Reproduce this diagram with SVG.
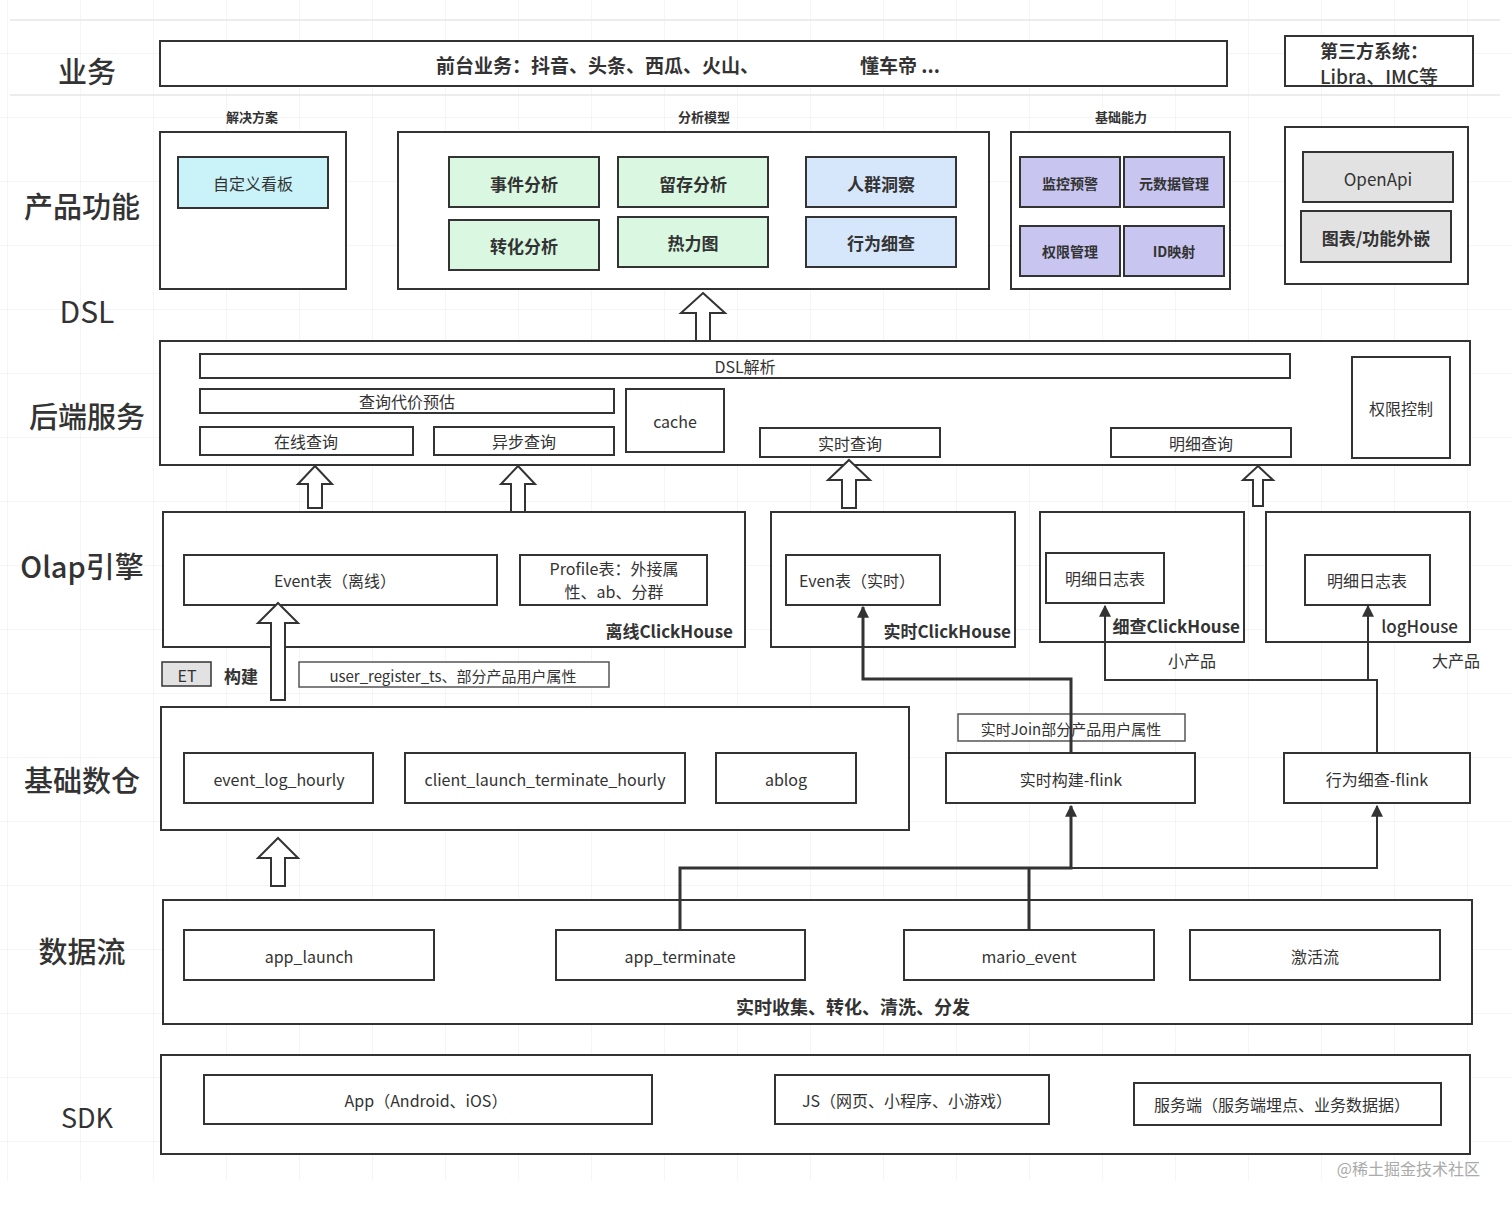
<svg xmlns="http://www.w3.org/2000/svg" width="1512" height="1208" viewBox="0 0 1512 1208">
<defs>
<pattern id="grid" x="7" y="53" width="73" height="64" patternUnits="userSpaceOnUse">
<path d="M0,0 V64 M0,0 H73" fill="none" stroke="#ececec" stroke-width="1"/>
</pattern>
<marker id="ah" viewBox="0 0 10 10" refX="9" refY="5" markerWidth="4" markerHeight="5" orient="auto" markerUnits="strokeWidth">
<path d="M0,0 L10,5 L0,10 z" fill="#333"/>
</marker>
<marker id="ah2" viewBox="0 0 10 10" refX="9" refY="5" markerWidth="6" markerHeight="7" orient="auto" markerUnits="strokeWidth">
<path d="M0,0 L10,5 L0,10 z" fill="#333"/>
</marker>
</defs>
<style>
text{font-family:"Noto Sans CJK SC","Noto Sans",sans-serif;fill:#333;}
.lane{font-size:29px;font-weight:500;text-anchor:middle;dominant-baseline:central;}
.lane2{font-size:27px;text-anchor:middle;dominant-baseline:central;}
.t{font-size:16px;text-anchor:middle;dominant-baseline:central;}
.tb{font-size:17px;font-weight:600;text-anchor:middle;dominant-baseline:central;}
.hd{font-size:13px;font-weight:600;text-anchor:middle;dominant-baseline:central;}
.box{fill:#fff;stroke:#333;stroke-width:2;}
.thin{fill:#fff;stroke:#555;stroke-width:1.5;}
.cyan{fill:#c9f3f9;stroke:#333;stroke-width:2;}
.green{fill:#d9f7e1;stroke:#333;stroke-width:2;}
.blue{fill:#d6e6fb;stroke:#333;stroke-width:2;}
.lav{fill:#c8c6f1;stroke:#333;stroke-width:2;}
.grey{fill:#e2e2e2;stroke:#333;stroke-width:2;}
.hollow{fill:#fff;stroke:#333;stroke-width:2;stroke-linejoin:miter;}
.c3{fill:none;stroke:#333;stroke-width:3;}
.c2{fill:none;stroke:#333;stroke-width:2;}
</style>
<rect x="0" y="0" width="1512" height="1208" fill="#fff"/>
<rect x="0" y="0" width="1512" height="1180" fill="url(#grid)"/>
<path d="M10,20 H1500 M10,95 H1500" stroke="#e6e6e6" stroke-width="1.5"/>

<g id="lanes">
<text class="lane" x="87" y="70">业务</text>
<text class="lane" x="82" y="205">产品功能</text>
<text class="lane2" x="87" y="310" style="font-size:30px">DSL</text>
<text class="lane" x="87" y="415">后端服务</text>
<text class="lane" x="82" y="565">Olap引擎</text>
<text class="lane" x="82" y="779">基础数仓</text>
<text class="lane" x="82" y="950">数据流</text>
<text class="lane2" x="87" y="1116">SDK</text>
</g>

<g id="business">
<rect class="box" x="160" y="41" width="1067" height="45"/>
<text class="tb" y="64" style="text-anchor:start;font-size:19px"><tspan x="436">前台业务：抖音、头条、西瓜、火山、</tspan><tspan x="860">懂车帝 ...</tspan></text>
</g>
<g id="third-party">
<rect class="box" x="1285" y="36" width="188" height="50"/>
<text class="tb" x="1374" y="50" style="font-size:18px">第三方系统：</text>
<text class="tb" x="1379" y="75" style="font-weight:500;font-size:19px">Libra、IMC等</text>
</g>

<g id="solution">
<text class="hd" x="252" y="116">解决方案</text>
<rect class="box" x="160" y="132" width="186" height="157"/>
<g id="dashboard"><rect class="cyan" x="178" y="157" width="150" height="51"/><text class="t" x="253" y="183">自定义看板</text></g>
</g>

<g id="analysis">
<text class="hd" x="704" y="116">分析模型</text>
<rect class="box" x="398" y="132" width="591" height="157"/>
<g id="event-analysis"><rect class="green" x="449" y="157" width="150" height="50"/><text class="tb" x="524" y="183">事件分析</text></g>
<g id="retention"><rect class="green" x="618" y="157" width="150" height="50"/><text class="tb" x="693" y="183">留存分析</text></g>
<g id="conversion"><rect class="green" x="449" y="220" width="150" height="50"/><text class="tb" x="524" y="245">转化分析</text></g>
<g id="heatmap"><rect class="green" x="618" y="217" width="150" height="50"/><text class="tb" x="693" y="242">热力图</text></g>
<g id="crowd"><rect class="blue" x="806" y="157" width="150" height="50"/><text class="tb" x="881" y="183">人群洞察</text></g>
<g id="behavior"><rect class="blue" x="806" y="217" width="150" height="50"/><text class="tb" x="881" y="242">行为细查</text></g>
</g>

<g id="basic">
<text class="hd" x="1121" y="116">基础能力</text>
<rect class="box" x="1011" y="132" width="219" height="157"/>
<g id="monitor"><rect class="lav" x="1020" y="157" width="100" height="50"/><text class="tb" x="1070" y="183" style="font-size:14px">监控预警</text></g>
<g id="metadata"><rect class="lav" x="1124" y="157" width="100" height="50"/><text class="tb" x="1174" y="183" style="font-size:14px">元数据管理</text></g>
<g id="permission"><rect class="lav" x="1020" y="226" width="100" height="50"/><text class="tb" x="1070" y="251" style="font-size:14px">权限管理</text></g>
<g id="idmap"><rect class="lav" x="1124" y="226" width="100" height="50"/><text class="tb" x="1174" y="251" style="font-size:14px">ID映射</text></g>
</g>

<g id="external">
<rect class="box" x="1285" y="127" width="183" height="157"/>
<g id="openapi"><rect class="grey" x="1303" y="152" width="150" height="50"/><text class="t" x="1378" y="178" style="font-size:17px">OpenApi</text></g>
<g id="embed"><rect class="grey" x="1301" y="211" width="150" height="51"/><text class="tb" x="1376" y="237">图表/功能外嵌</text></g>
</g>

<g id="backend">
<rect class="box" x="160" y="341" width="1310" height="124"/>
<g id="dsl-parse"><rect class="box" x="200" y="354" width="1090" height="24"/><text class="t" x="745" y="366">DSL解析</text></g>
<g id="cost"><rect class="box" x="200" y="389" width="414" height="24"/><text class="t" x="407" y="401">查询代价预估</text></g>
<g id="cache"><rect class="box" x="626" y="389" width="98" height="63"/><text class="t" x="675" y="421">cache</text></g>
<g id="online"><rect class="box" x="200" y="427" width="213" height="28"/><text class="t" x="306" y="441">在线查询</text></g>
<g id="async"><rect class="box" x="434" y="427" width="180" height="28"/><text class="t" x="524" y="441">异步查询</text></g>
<g id="realtime-q"><rect class="box" x="760" y="428" width="180" height="29"/><text class="t" x="850" y="443">实时查询</text></g>
<g id="detail-q"><rect class="box" x="1111" y="428" width="180" height="29"/><text class="t" x="1201" y="443">明细查询</text></g>
<g id="auth"><rect class="box" x="1352" y="357" width="98" height="101"/><text class="t" x="1401" y="408">权限控制</text></g>
</g>

<g id="offline-ch">
<rect class="box" x="163" y="512" width="582" height="135"/>
<g id="event-offline"><rect class="box" x="184" y="555" width="313" height="50"/><text class="t" x="335" y="580">Event表（离线）</text></g>
<g id="profile"><rect class="box" x="520" y="555" width="187" height="50"/><text class="t" x="614" y="568">Profile表：外接属</text><text class="t" x="614" y="591">性、ab、分群</text></g>
<text class="tb" x="733" y="630" style="text-anchor:end">离线ClickHouse</text>
</g>
<g id="realtime-ch">
<rect class="box" x="771" y="512" width="244" height="135"/>
<g id="event-rt"><rect class="box" x="786" y="555" width="154" height="50"/><text class="t" x="857" y="580">Even表（实时）</text></g>
<text class="tb" x="1011" y="630" style="text-anchor:end">实时ClickHouse</text>
</g>
<g id="detail-ch">
<rect class="box" x="1040" y="512" width="204" height="130"/>
<g id="log-small"><rect class="box" x="1046" y="553" width="118" height="50"/><text class="t" x="1105" y="578">明细日志表</text></g>
<text class="tb" x="1240" y="625" style="text-anchor:end">细查ClickHouse</text>
<text class="t" x="1192" y="660">小产品</text>
</g>
<g id="loghouse">
<rect class="box" x="1266" y="512" width="204" height="130"/>
<g id="log-big"><rect class="box" x="1305" y="555" width="125" height="50"/><text class="t" x="1367" y="580">明细日志表</text></g>
<text class="tb" x="1458" y="625" style="text-anchor:end;font-weight:500">logHouse</text>
<text class="t" x="1456" y="660">大产品</text>
</g>

<g id="build">
<g id="et"><rect class="grey" x="162" y="662" width="49" height="24" style="stroke-width:1.5"/><text class="t" x="187" y="675">ET</text></g>
<text class="tb" x="241" y="675">构建</text>
<g id="user-attr"><rect class="thin" x="299" y="662" width="310" height="25"/><text class="t" x="453" y="675" style="font-size:15px">user_register_ts、部分产品用户属性</text></g>
</g>

<g id="warehouse">
<rect class="box" x="161" y="707" width="748" height="123"/>
<g id="event-log"><rect class="box" x="184" y="753" width="189" height="50"/><text class="t" x="279" y="779">event_log_hourly</text></g>
<g id="client-launch"><rect class="box" x="405" y="753" width="280" height="50"/><text class="t" x="545" y="779">client_launch_terminate_hourly</text></g>
<g id="ablog"><rect class="box" x="716" y="753" width="140" height="50"/><text class="t" x="786" y="779">ablog</text></g>
</g>
<g id="join-label"><rect class="thin" x="958" y="714" width="227" height="27"/><text class="t" x="1071" y="728" style="font-size:15px">实时Join部分产品用户属性</text></g>
<g id="flink-rt"><rect class="box" x="946" y="753" width="249" height="50"/><text class="t" x="1071" y="779">实时构建-flink</text></g>
<g id="flink-detail"><rect class="box" x="1284" y="753" width="186" height="50"/><text class="t" x="1377" y="779">行为细查-flink</text></g>

<g id="dataflow">
<rect class="box" x="163" y="900" width="1309" height="124"/>
<g id="app-launch"><rect class="box" x="184" y="930" width="250" height="50"/><text class="t" x="309" y="956">app_launch</text></g>
<g id="app-terminate"><rect class="box" x="556" y="930" width="249" height="50"/><text class="t" x="680" y="956">app_terminate</text></g>
<g id="mario"><rect class="box" x="904" y="930" width="250" height="50"/><text class="t" x="1029" y="956">mario_event</text></g>
<g id="activation"><rect class="box" x="1190" y="930" width="250" height="50"/><text class="t" x="1315" y="956">激活流</text></g>
<text class="tb" x="853" y="1006" style="font-size:18px">实时收集、转化、清洗、分发</text>
</g>

<g id="sdk">
<rect class="box" x="161" y="1055" width="1309" height="99"/>
<g id="sdk-app"><rect class="box" x="204" y="1075" width="448" height="49"/><text class="t" x="426" y="1100">App（Android、iOS）</text></g>
<g id="sdk-js"><rect class="box" x="775" y="1075" width="274" height="49"/><text class="t" x="907" y="1100">JS（网页、小程序、小游戏）</text></g>
<g id="sdk-server"><rect class="box" x="1134" y="1083" width="307" height="42"/><text class="t" x="1282" y="1104">服务端（服务端埋点、业务数据据）</text></g>
</g>

<g id="connectors">
<polygon class="hollow" points="703,293 725,313 710,313 710,341 696,341 696,313 681,313"/>
<polygon class="hollow" points="315,466 332,484 322,484 322,508 308,508 308,484 298,484"/>
<polygon class="hollow" points="518,466 535,484 525,484 525,512 511,512 511,484 501,484"/>
<polygon class="hollow" points="849,460 870,480 856,480 856,508 842,508 842,480 828,480"/>
<polygon class="hollow" points="1258,466 1273,480 1263,480 1263,506 1253,506 1253,480 1243,480"/>
<polygon class="hollow" points="278,603 298,623 285,623 285,700 271,700 271,623 258,623"/>
<polygon class="hollow" points="278,838 298,858 285,858 285,886 271,886 271,858 258,858"/>
<path class="c3" d="M680,930 V868 H1071 V806" marker-end="url(#ah)"/>
<path class="c3" d="M1029,930 V868"/>
<path class="c2" d="M1071,868 H1377 V806" marker-end="url(#ah2)"/>
<path class="c3" d="M1071,753 V679 H863 V607" marker-end="url(#ah)"/>
<path class="c2" d="M1377,753 V680 H1105 V606" marker-end="url(#ah2)"/>
<path class="c2" d="M1368,680 V606" marker-end="url(#ah2)"/>
</g>

<text x="1480" y="1168" style="font-size:16px;fill:#aaa;text-anchor:end;dominant-baseline:central">@稀土掘金技术社区</text>
</svg>
